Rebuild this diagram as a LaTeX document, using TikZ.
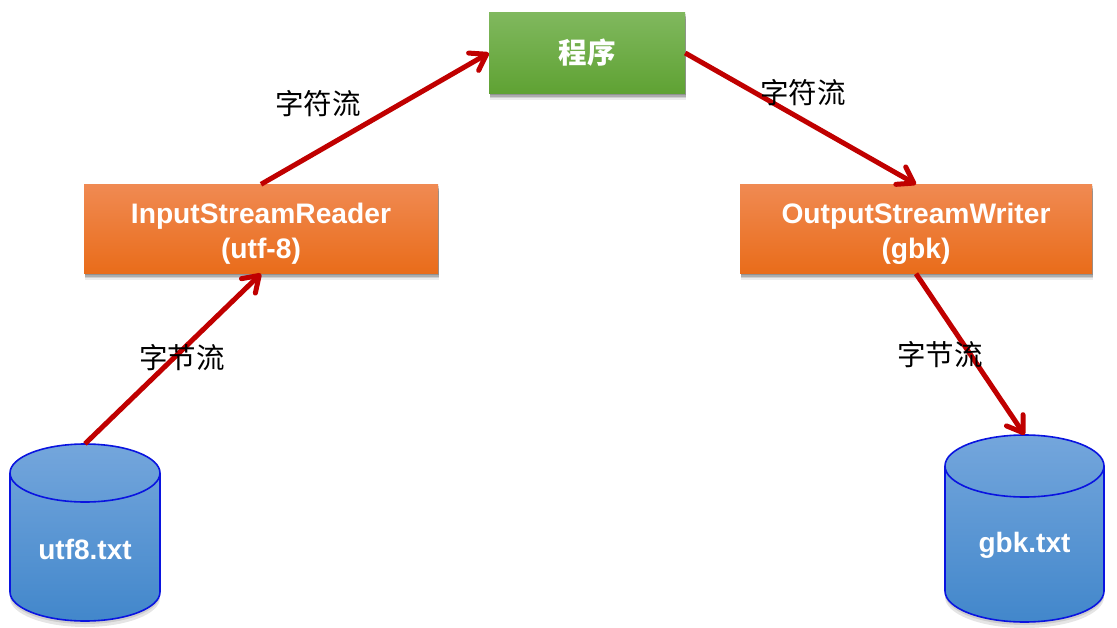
\documentclass[tikz,border=0pt]{standalone}
\usepackage{fontspec}
\setmainfont{Liberation Sans}
\newfontfamily\cjk{Noto Sans CJK SC}
\usetikzlibrary{arrows.meta,calc}
\definecolor{flowred}{HTML}{C00000}
\definecolor{orangeTop}{HTML}{F08A52}
\definecolor{orangeBot}{HTML}{E96C1A}
\definecolor{greenTop}{HTML}{80B85E}
\definecolor{greenBot}{HTML}{5FA233}
\definecolor{drumTop}{HTML}{74A6DC}
\definecolor{drumBot}{HTML}{4287CB}
\definecolor{drumEdge}{HTML}{0A14E0}
\tikzset{
  x=1pt,y=-1pt,
  softshadow/.style={
    preaction={fill=black,opacity=.16,transform canvas={xshift=.5pt,yshift=-1.5pt}},
    preaction={fill=black,opacity=.16,transform canvas={xshift=1pt,yshift=-3pt}},
    preaction={fill=black,opacity=.12,transform canvas={xshift=1pt,yshift=-4.5pt}},
    preaction={fill=black,opacity=.07,transform canvas={xshift=1pt,yshift=-6pt}}},
  orangebox/.style={rectangle,minimum width=354pt,minimum height=89pt,inner sep=0pt,
    softshadow,top color=orangeTop,bottom color=orangeBot,align=center,
    text=white,font=\fontsize{28.2}{35}\selectfont\bfseries},
  greenbox/.style={rectangle,minimum width=196pt,minimum height=81pt,inner sep=0pt,
    softshadow,top color=greenTop,bottom color=greenBot,
    text=white,font=\fontsize{28.5}{33}\selectfont\cjk\bfseries},
  drumframe/.style={rectangle,inner sep=0pt,minimum width=150pt},
  drumtext/.style={text=white,inner sep=0pt,font=\fontsize{28}{32}\selectfont\bfseries},
  flow/.style={draw=flowred,line width=5pt,
    -{Straight Barb[length=15pt,width=20pt,round,line width=5pt]}},
  flowlabel/.style={text=black,inner sep=0pt,font=\fontsize{28.5}{32}\selectfont\cjk},
}
% Drum: #1 = centre x, #2 = top y, #3 = bottom y, #4 = x radius, #5 = y radius
\newcommand{\drum}[5]{%
  \fill[black,opacity=.1] (#1-#4,#3-#5+3) arc[x radius=#4,y radius=#5,start angle=180,end angle=0] -- cycle;
  \fill[black,opacity=.1] (#1-#4,#3-#5+6) arc[x radius=#4,y radius=#5,start angle=180,end angle=0] -- cycle;
  \path[top color=drumTop,bottom color=drumBot]
    (#1-#4,#2+#5) arc[x radius=#4,y radius=#5,start angle=180,end angle=360]
    -- (#1+#4,#3-#5) arc[x radius=#4,y radius=#5,start angle=0,end angle=180] -- cycle;
  \draw[drumEdge,line width=1.6pt,line join=round]
    (#1-#4,#2+#5) arc[x radius=#4,y radius=#5,start angle=180,end angle=-180]
    -- (#1-#4,#3-#5) arc[x radius=#4,y radius=#5,start angle=180,end angle=0]
    -- (#1+#4,#2+#5);
}
\begin{document}
\begin{tikzpicture}
\useasboundingbox (0,0) rectangle (1117,627);
\fill[white] (0,0) rectangle (1117,627);

% storage drums at both ends of the chain
\drum{85}{444}{621}{75}{29}
\drum{1024.5}{435}{622}{79.5}{31}
\node[drumframe,minimum height=177pt] (utf) at (85,532.5) {};
\node[drumframe,minimum height=187pt] (gbk) at (1024.5,528.5) {};
\node[drumtext] (utfname) at (85,549) {utf8.txt};
\node[drumtext] (gbkname) at (1024.5,545) {gbk.txt};

% converter and program boxes; the tall rule sets the first line lower in the box
\node[orangebox] (reader) at (261,229) {\rule{0pt}{29pt}InputStreamReader\\(utf-8)};
\node[orangebox,minimum width=352pt] (writer) at (916,229) {\rule{0pt}{29pt}OutputStreamWriter\\(gbk)};
\node[greenbox] (prog) at (587,53) {程序};

% data flow
\draw[flow] (utf.north) -- (reader.south);
\draw[flow] (reader.north) -- (prog.west);
\draw[flow] (prog.east) -- (writer.north);
\draw[flow] (writer.south) -- (gbk.north);

% flow labels
\node[flowlabel] (lb1) at (182,358) {字节流};
\node[flowlabel] (lc1) at (318,104) {字符流};
\node[flowlabel] (lc2) at (803,93) {字符流};
\node[flowlabel] (lb2) at (940,355) {字节流};
\end{tikzpicture}
\end{document}
